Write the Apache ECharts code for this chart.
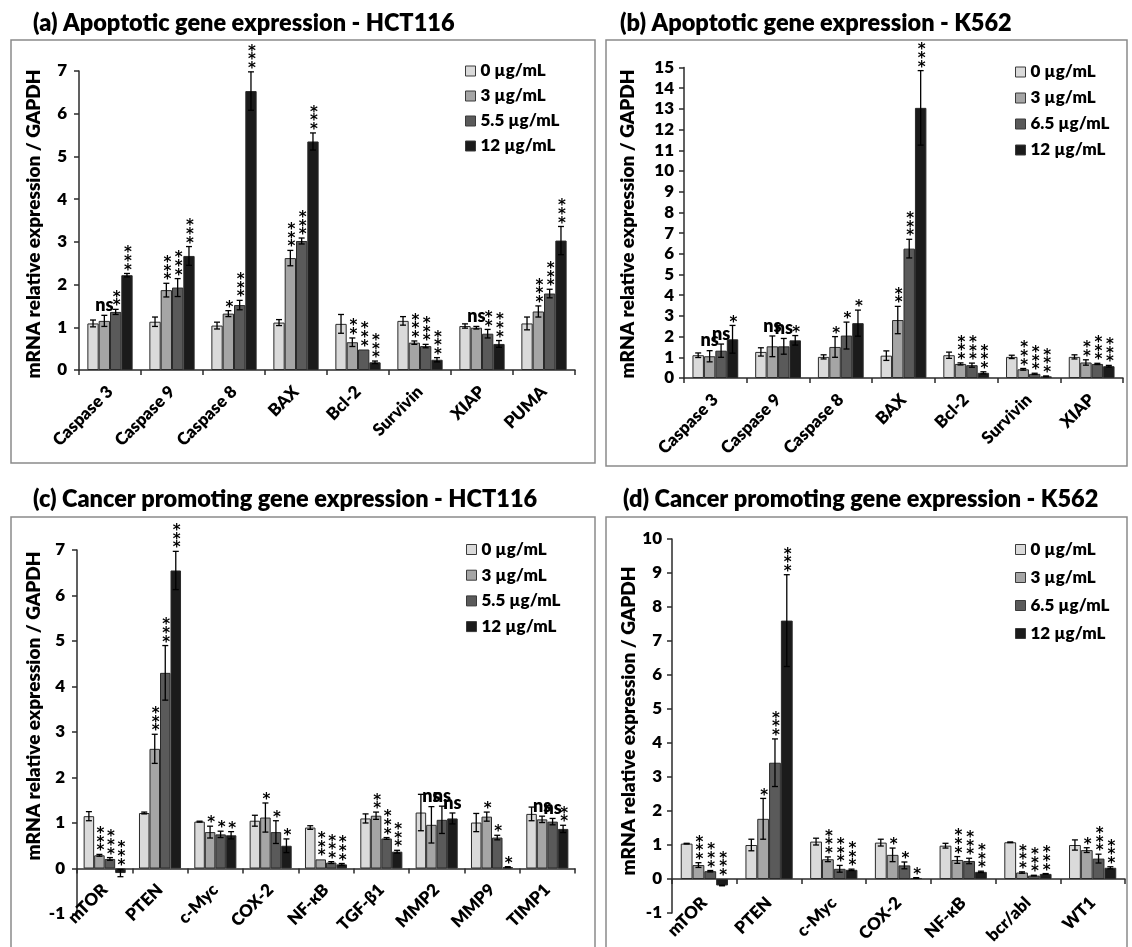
<!DOCTYPE html>
<html><head><meta charset="utf-8">
<script src="https://cdn.jsdelivr.net/npm/echarts@6/dist/echarts.min.js"></script>
<style>html,body{margin:0;padding:0;background:#fff}#c{width:1132px;height:947px}</style>
</head><body><div id="c"></div>
<script>
// ---------- DATA ----------
// (a) Apoptotic gene expression - HCT116
const catsA = ['Caspase 3','Caspase 9','Caspase 8','BAX','Bcl-2','Survivin','XIAP','PUMA'];
const dosesA = ['0 µg/mL','3 µg/mL','5.5 µg/mL','12 µg/mL'];
const a0  = [1.09, 1.13, 1.04, 1.11, 1.08, 1.15, 1.03, 1.09];
const a3  = [1.15, 1.87, 1.32, 2.62, 0.65, 0.64, 0.99, 1.37];
const a55 = [1.36, 1.93, 1.52, 3.02, 0.48, 0.56, 0.85, 1.79];
const a12 = [2.22, 2.67, 6.53, 5.35, 0.18, 0.24, 0.61, 3.03];
const ae0  = [0.08, 0.11, 0.08, 0.07, 0.22, 0.10, 0.05, 0.15];
const ae3  = [0.13, 0.16, 0.07, 0.18, 0.10, 0.04, 0.03, 0.13];
const ae55 = [0.06, 0.21, 0.11, 0.07, 0.00, 0.04, 0.10, 0.10];
const ae12 = [0.04, 0.22, 0.45, 0.20, 0.03, 0.05, 0.08, 0.33];
const as0  = ['','','','','','','',''];
const as3  = ['ns','***','*','***','**','***','ns','***'];
const as55 = ['**','***','***','***','***','***','**','***'];
const as12 = ['***','***','***','***','***','***','***','***'];

// (b) Apoptotic gene expression - K562
const catsB = ['Caspase 3','Caspase 9','Caspase 8','BAX','Bcl-2','Survivin','XIAP'];
const dosesB = ['0 µg/mL','3 µg/mL','6.5 µg/mL','12 µg/mL'];
const b0  = [1.10, 1.26, 1.02, 1.08, 1.10, 1.02, 1.02];
const b3  = [1.05, 1.53, 1.50, 2.80, 0.68, 0.42, 0.75];
const b65 = [1.32, 1.53, 2.05, 6.25, 0.62, 0.20, 0.68];
const b12 = [1.87, 1.82, 2.65, 13.05, 0.25, 0.08, 0.57];
const be0  = [0.11, 0.20, 0.10, 0.23, 0.15, 0.08, 0.10];
const be3  = [0.27, 0.50, 0.50, 0.66, 0.05, 0.04, 0.13];
const be65 = [0.32, 0.38, 0.65, 0.45, 0.10, 0.03, 0.03];
const be12 = [0.67, 0.23, 0.63, 1.80, 0.05, 0.02, 0.04];
const bs0  = ['','','','','','',''];
const bs3  = ['ns','ns','*','**','***','***','**'];
const bs65 = ['ns','ns','*','***','***','***','***'];
const bs12 = ['*','*','*','***','***','***','***'];

// (c) Cancer promoting gene expression - HCT116
const catsC = ['mTOR','PTEN','c-Myc','COX-2','NF-κB','TGF-β1','MMP2','MMP9','TIMP1'];
const dosesC = ['0 µg/mL','3 µg/mL','5.5 µg/mL','12 µg/mL'];
const c0  = [1.15, 1.22, 1.03, 1.05, 0.90, 1.10, 1.23, 1.01, 1.20];
const c3  = [0.29, 2.63, 0.80, 1.12, 0.20, 1.16, 0.96, 1.14, 1.08];
const c55 = [0.21, 4.30, 0.75, 0.80, 0.13, 0.66, 1.07, 0.68, 1.03];
const c12 = [-0.10, 6.55, 0.73, 0.50, 0.09, 0.37, 1.10, 0.03, 0.87];
const ce0  = [0.10, 0.02, 0.01, 0.12, 0.04, 0.10, 0.40, 0.20, 0.15];
const ce3  = [0.02, 0.32, 0.13, 0.32, 0.00, 0.08, 0.40, 0.10, 0.07];
const ce55 = [0.03, 0.60, 0.07, 0.25, 0.02, 0.02, 0.30, 0.05, 0.07];
const ce12 = [0.08, 0.42, 0.08, 0.15, 0.02, 0.03, 0.12, 0.01, 0.08];
const cs0  = ['','','','','','','','',''];
const cs3  = ['***','***','*','*','***','**','ns','*','ns'];
const cs55 = ['***','***','*','*','***','***','ns','*','ns'];
const cs12 = ['***','***','*','*','***','***','ns','*','**'];

// (d) Cancer promoting gene expression - K562
const catsD = ['mTOR','PTEN','c-Myc','COX-2','NF-κB','bcr/abl','WT1'];
const dosesD = ['0 µg/mL','3 µg/mL','6.5 µg/mL','12 µg/mL'];
const d0  = [1.04, 1.00, 1.10, 1.07, 0.98, 1.08, 1.00];
const d3  = [0.41, 1.77, 0.58, 0.71, 0.56, 0.19, 0.85];
const d65 = [0.23, 3.42, 0.30, 0.40, 0.53, 0.10, 0.60];
const d12 = [-0.19, 7.60, 0.27, 0.03, 0.21, 0.15, 0.33];
const de0  = [0.01, 0.17, 0.10, 0.10, 0.07, 0.01, 0.15];
const de3  = [0.07, 0.60, 0.07, 0.20, 0.10, 0.02, 0.07];
const de65 = [0.02, 0.70, 0.10, 0.10, 0.08, 0.01, 0.13];
const de12 = [0.01, 1.35, 0.02, 0.01, 0.02, 0.01, 0.03];
const ds0  = ['','','','','','',''];
const ds3  = ['***','*','***','*','***','***','*'];
const ds65 = ['***','***','***','*','***','***','***'];
const ds12 = ['***','***','***','*','***','***','***'];

const titles = ['(a) Apoptotic gene expression - HCT116','(b) Apoptotic gene expression - K562',
  '(c) Cancer promoting gene expression - HCT116','(d) Cancer promoting gene expression - K562'];
const yTitle = 'mRNA relative expression / GAPDH';

// ---------- LAYOUT / STYLE ----------
const FONT = 'Lato';
const W = 800;
const barColors = ['#dadada','#a5a5a5','#5a5a5a','#1b1b1b'];
const panels = [
  {cats:catsA, names:dosesA, vals:[a0,a3,a55,a12], errs:[ae0,ae3,ae55,ae12], sigs:[as0,as3,as55,as12],
   grid:{left:79, top:71, width:496, height:299}, y:[0,7,1], gap:0.27, xlm:19,
   legend:{left:465, top:62.5, itemGap:8}, title:[33,23], frame:[11,40,584,423], ytitle:[34,224], ylm:12},
  {cats:catsB, names:dosesB, vals:[b0,b3,b65,b12], errs:[be0,be3,be65,be12], sigs:[bs0,bs3,bs65,bs12],
   grid:{left:684, top:67.5, width:439, height:310.5}, y:[0,15,1], gap:0.27, xlm:19,
   legend:{left:1015, top:63.5, itemGap:9}, title:[620,23], frame:[606,40,521,426], ytitle:[628,224], ylm:10},
  {cats:catsC, names:dosesC, vals:[c0,c3,c55,c12], errs:[ce0,ce3,ce55,ce12], sigs:[cs0,cs3,cs55,cs12],
   grid:{left:77, top:550, width:498, height:364}, y:[-1,7,1], gap:0.24, xlm:-27,
   legend:{left:466, top:541, itemGap:8.7}, title:[33,499], frame:[11,517,584,440], ytitle:[34,706], ylm:12},
  {cats:catsD, names:dosesD, vals:[d0,d3,d65,d12], errs:[de0,de3,de65,de12], sigs:[ds0,ds3,ds65,ds12],
   grid:{left:672, top:539, width:453, height:374}, y:[-1,10,1], gap:0.27, xlm:-13,
   legend:{left:1015, top:541, itemGap:11}, title:[623,499], frame:[606,517,521,440], ytitle:[629,721], ylm:10}
];

const axisLineStyle = {color:'#2b2b2b', width:1.5};
const grids = [], xAxes = [], yAxes = [], series = [], legends = [], graphics = [];

panels.forEach((p, gi) => {
  grids.push(Object.assign({containLabel:false}, p.grid));
  xAxes.push({type:'category', gridIndex:gi, data:p.cats,
    axisLine:{onZero:true, lineStyle:axisLineStyle},
    axisTick:{show:true, length:5, lineStyle:axisLineStyle},
    axisLabel:{rotate:45, interval:0, margin:p.xlm, fontFamily:FONT, fontWeight:W, fontSize:17, color:'#000'},
    splitLine:{show:false}});
  yAxes.push({type:'value', gridIndex:gi, min:p.y[0], max:p.y[1], interval:p.y[2],
    axisLine:{show:true, lineStyle:axisLineStyle},
    axisTick:{show:true, length:5, lineStyle:axisLineStyle},
    axisLabel:{margin:p.ylm, fontFamily:FONT, fontWeight:W, fontSize:17, color:'#000'},
    splitLine:{show:false}});
  p.names.forEach((nm, k) => {
    series.push({type:'bar', name:nm, xAxisIndex:gi, yAxisIndex:gi, data:p.vals[k],
      barGap:'0%', barCategoryGap:(p.gap*100)+'%',
      itemStyle:{color:barColors[k], borderColor:'#2a2a2a', borderWidth:1},
      emphasis:{disabled:true}, animation:false});
  });
  p.names.forEach((nm, k) => {
    const vals = p.vals[k], errs = p.errs[k], sigs = p.sigs[k];
    series.push({type:'custom', xAxisIndex:gi, yAxisIndex:gi, z:5, silent:true, animation:false,
      data: vals.map((v, i) => [i, v]),
      renderItem: function (params, api) {
        const i = params.dataIndex;
        const v = vals[i], e = errs[i], s = sigs[i];
        const band = api.size([1, 0])[0];
        const bw = band * (1 - p.gap) / 4;
        const cx = api.coord([i, 0])[0] + (k - 1.5) * bw;
        const children = [];
        if (e > 0) {
          const yT = api.coord([i, v + e])[1], yB = api.coord([i, v - e])[1];
          const st = {stroke:'#000', lineWidth:1.3};
          children.push({type:'line', shape:{x1:cx, y1:yT, x2:cx, y2:yB}, style:st});
          children.push({type:'line', shape:{x1:cx-3, y1:yT, x2:cx+3, y2:yT}, style:st});
          children.push({type:'line', shape:{x1:cx-3, y1:yB, x2:cx+3, y2:yB}, style:st});
        }
        if (s) {
          const topV = Math.max(v + e, v, 0);
          const ay = api.coord([i, topV])[1];
          if (s === 'ns') {
            children.push({type:'text', x:cx, y:ay - 1, style:{text:'ns', fill:'#000',
              font:W + ' 18px ' + FONT, align:'center', verticalAlign:'bottom',
              textAlign:'center', textVerticalAlign:'bottom'}});
          } else {
            children.push({type:'text', x:cx + 1, y:ay + 1.5, style:{text:s.split('').join('\n'), fill:'#000',
              font:'bold 15px "DejaVu Sans"', lineHeight:8.6, align:'center', verticalAlign:'bottom',
              textAlign:'center', textVerticalAlign:'bottom'}});
          }
        }
        return {type:'group', children:children};
      }});
  });
  legends.push({orient:'vertical', left:p.legend.left, top:p.legend.top, padding:0,
    itemWidth:10, itemHeight:10, itemGap:p.legend.itemGap, icon:'rect', selectedMode:false,
    data:p.names, itemStyle:{borderColor:'#3a3a3a', borderWidth:1},
    textStyle:{fontFamily:FONT, fontWeight:W, fontSize:17, color:'#000', lineHeight:16}});
  graphics.push({type:'rect', shape:{x:p.frame[0], y:p.frame[1], width:p.frame[2], height:p.frame[3]},
    style:{fill:'none', stroke:'#8a8a8a', lineWidth:1.5}, z:-10});
  graphics.push({type:'text', x:p.title[0], y:p.title[1], style:{text:titles[gi], fill:'#000',
    font:W + ' 23.5px ' + FONT, align:'left', verticalAlign:'middle', textAlign:'left', textVerticalAlign:'middle'}});
  graphics.push({type:'text', x:p.ytitle[0], y:p.ytitle[1], rotation:Math.PI/2, style:{text:yTitle, fill:'#000',
    font:W + ' 19px ' + FONT, align:'center', verticalAlign:'middle', textAlign:'center', textVerticalAlign:'middle'}});
});

const chart = echarts.init(document.getElementById('c'), null, {renderer:'canvas'});
chart.setOption({animation:false, backgroundColor:'#fff', grid:grids, xAxis:xAxes, yAxis:yAxes,
  series:series, legend:legends, graphic:graphics, tooltip:{show:false}});
</script></body></html>
